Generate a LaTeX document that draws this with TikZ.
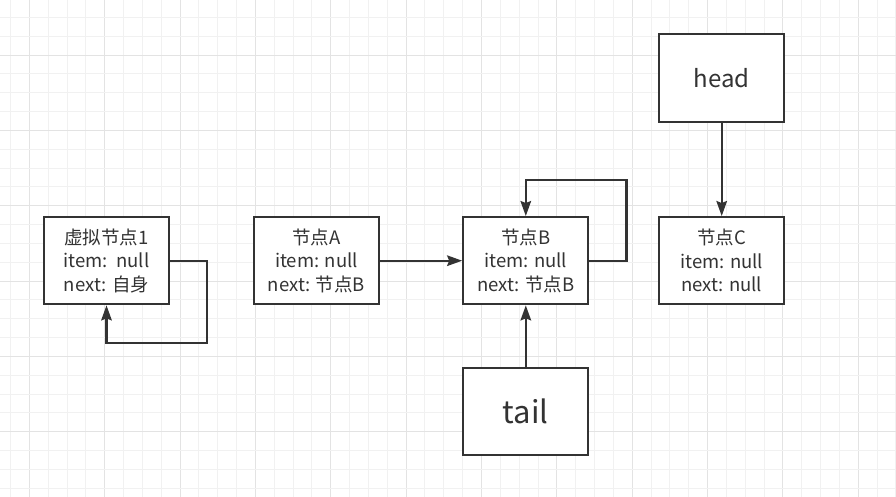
\documentclass[tikz,border=0pt]{standalone}
\usepackage{fontspec}
\setmainfont{Noto Sans CJK SC}
\usetikzlibrary{arrows.meta}
\definecolor{ink}{HTML}{333333}
\definecolor{gridminor}{HTML}{F1F1F1}
\definecolor{gridmajor}{HTML}{E3E3E3}
\tikzset{
  box/.style={draw=ink, line width=2.3pt, fill=white, rectangle, minimum width=125pt, minimum height=87pt, inner sep=0pt, align=center, text=ink, font=\fontsize{18.5}{23.5}\selectfont},
  bigbox/.style={box, font=\fontsize{24}{28}\selectfont},
  hugebox/.style={box, font=\fontsize{31}{36}\selectfont},
  arr/.style={draw=ink, line width=2.3pt, -{Stealth[length=15pt,width=10.5pt,inset=2pt]}},
}
\begin{document}
\begin{tikzpicture}[x=1pt,y=-1pt]
\useasboundingbox (0,0) rectangle (896,497);
\fill[white] (0,0) rectangle (896,497);
% grid
\foreach \k in {0,...,47}{
  \pgfmathsetmacro{\xx}{10.5+18.84*\k}
  \pgfmathtruncatemacro{\m}{mod(\k,4)}
  \ifnum\m=1
    \draw[gridmajor, line width=1pt] (\xx,0) -- (\xx,497);
  \else
    \draw[gridminor, line width=1pt] (\xx,0) -- (\xx,497);
  \fi
}
\foreach \k in {0,...,27}{
  \pgfmathsetmacro{\yy}{-1.5+18.84*\k}
  \pgfmathtruncatemacro{\m}{mod(\k,4)}
  \ifnum\m=3
    \draw[gridmajor, line width=1pt] (0,\yy) -- (896,\yy);
  \else
    \draw[gridminor, line width=1pt] (0,\yy) -- (896,\yy);
  \fi
}
% nodes
\node[box] (v) at (106.5,260.7) {虚拟节点1\\item:\ \ null\\next: 自身};
\node[box] (a) at (316.5,260.7) {节点A\\item: null\\next: 节点B};
\node[box] (b) at (525.8,260.7) {节点B\\item: null\\next: 节点B};
\node[box] (c) at (721.7,260.7) {节点C\\item: null\\next: null};
\node[bigbox, minimum height=88pt] (head) at (721.7,78) {head};
\node[hugebox] (tail) at (525.8,411.7) {tail};
% connectors
\draw[arr] (v.east) -| ++(37,82) -| (v.south);
\draw[arr] (b.east) -| ++(37,-80.5) -| (b.north);
\draw[arr] (a.east) -- (b.west);
\draw[arr] (head.south) -- (c.north);
\draw[arr] (tail.north) -- (b.south);
\end{tikzpicture}
\end{document}
